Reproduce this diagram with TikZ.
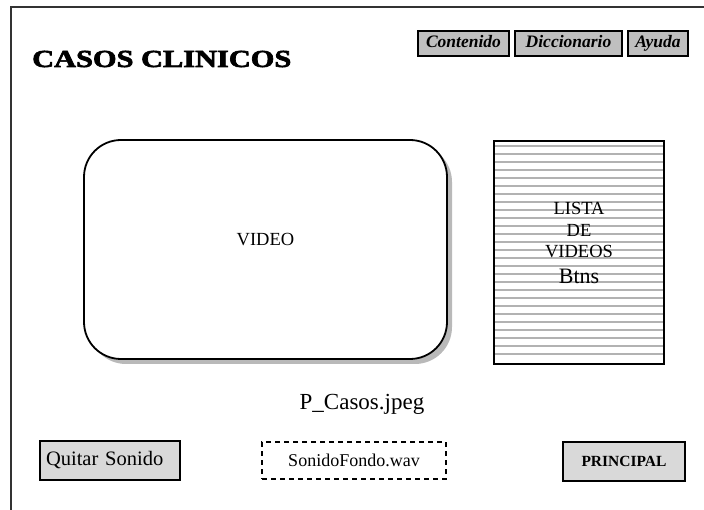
\documentclass[tikz,border=0pt]{standalone}
\usepackage{fontspec}
\setmainfont{Liberation Serif}
\newfontfamily\titlefont{Liberation Serif}[BoldFeatures={FakeBold=2.5}]
\begin{document}
\begin{tikzpicture}[x=1pt,y=-1pt,
  topbtn/.style={draw=black,line width=1.6pt,fill=gray!50,minimum height=25pt,inner sep=0pt,
    text height=12.5pt,text depth=4pt,
    font=\fontsize{17.5}{19}\selectfont\bfseries\itshape},
  botbtn/.style={draw=black,line width=1.4pt,fill=gray!30,minimum height=39pt,inner sep=0pt},
  lbl/.style={inner sep=0pt,font=\fontsize{18.5}{20}\selectfont}]
\useasboundingbox (0,0) rectangle (704,510);
% frame
\draw[line width=1.3pt,black!80] (11,511) -- (11,7) -- (705,7);
% title
\node[inner sep=0pt,anchor=west] (title) at (32,59)
  {\scalebox{1.24}[1]{\fontsize{24.5}{26}\selectfont\titlefont\bfseries CASOS CLINICOS}};
% top buttons
\node[topbtn,minimum width=91pt] (cont) at (463.5,43.5) {Contenido};
\node[topbtn,minimum width=107pt] (dicc) at (568.5,43.5) {Diccionario};
\node[topbtn,minimum width=60pt] (ayuda) at (658,43.5) {Ayuda};
% video box with shadow
\fill[gray!55,rounded corners=37pt] (89,145) rectangle (452,364);
\draw[line width=1.8pt,fill=white,rounded corners=37pt] (84,140) rectangle (447,359);
\node[lbl] (video) at (265.5,240) {VIDEO};
% list box
\foreach \k in {0,...,26} {
  \draw[gray!60,line width=1.6pt] (495,{146+8*\k}) -- (663,{146+8*\k});
}
\draw[line width=1.5pt] (494,141) rectangle (664,364);
\node[lbl] (l1) at (579,208) {LISTA};
\node[lbl] (l2) at (579,230) {DE};
\node[lbl] (l3) at (579,252) {VIDEOS};
\node[inner sep=0pt,font=\fontsize{22}{24}\selectfont] (btns) at (579,276) {Btns};
% image label
\node[inner sep=0pt,font=\fontsize{23}{25}\selectfont] (pcasos) at (362,404) {P\_Casos.jpeg};
% bottom
\node[botbtn,text width=128pt,inner xsep=6pt,align=left,font=\fontsize{20.5}{22}\selectfont] (quitar) at (110,460.5) {Quitar Sonido};
\node[draw=black,line width=1.5pt,dash pattern=on 5pt off 4pt,minimum width=184pt,minimum height=37pt,inner sep=0pt,font=\fontsize{18}{20}\selectfont] (sonido) at (354,460.5) {SonidoFondo.wav};
\node[botbtn,minimum width=122pt,font=\fontsize{15.5}{17}\selectfont\bfseries] (princ) at (624,461.5) {PRINCIPAL};
\end{tikzpicture}
\end{document}
